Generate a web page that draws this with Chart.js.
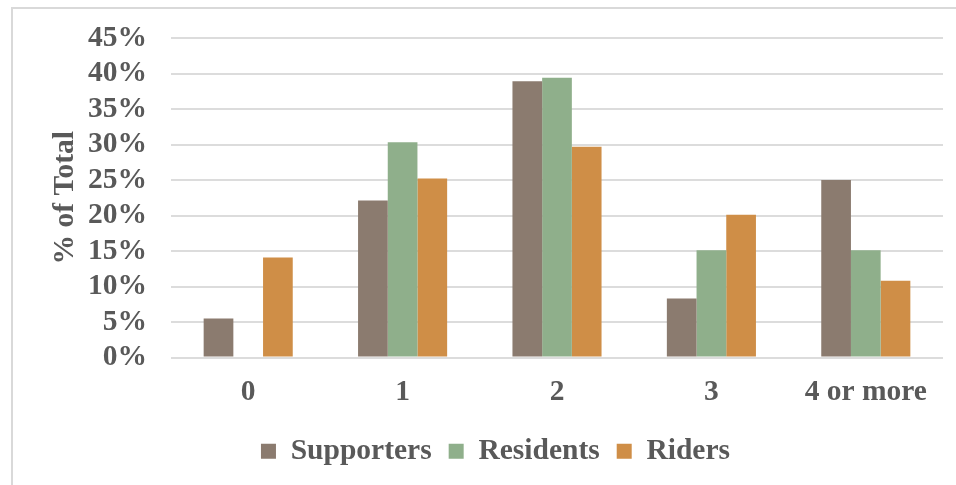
<!DOCTYPE html>
<html>
<head>
<meta charset="utf-8">
<script src="https://cdn.jsdelivr.net/npm/chart.js@4"></script>
<style>
  html, body { margin: 0; padding: 0; background: #fff; }
  #wrap { position: relative; width: 956px; height: 485px; }
  #frame { position: absolute; left: 11px; top: 7px; right: 0; bottom: 0;
           border-left: 2px solid #d9d9d9; border-top: 2px solid #d9d9d9; }
  canvas { position: absolute; left: 0; top: 0; }
</style>
</head>
<body>
<div id="wrap">
  <div id="frame"></div>
  <canvas id="chart" width="956" height="485"></canvas>
</div>
<script>
// values, in percent
const categories = ['0', '1', '2', '3', '4 or more'];
const supporters = [5.5, 22.1, 38.9, 8.3, 25.0];
const residents = [0, 30.3, 39.4, 15.1, 15.1];
const riders = [14.1, 25.2, 29.7, 20.1, 10.8];
const yTicks = [0, 5, 10, 15, 20, 25, 30, 35, 40, 45];

const font = { family: "'Liberation Serif', 'Times New Roman', serif", weight: 'bold', size: 29.5 };
const textColor = '#595959';

const ctx = document.getElementById('chart').getContext('2d');

new Chart(ctx, {
  type: 'bar',
  data: {
    labels: categories,
    datasets: [
      { label: 'Supporters', data: supporters, backgroundColor: '#8b7b6f' },
      { label: 'Residents', data: residents, backgroundColor: '#8faf8b' },
      { label: 'Riders', data: riders, backgroundColor: '#cf8e47' },
    ],
  },
  options: {
    responsive: false,
    animation: false,
    layout: { padding: { left: 48, right: 13, top: 38, bottom: 9 } },
    datasets: {
      bar: { categoryPercentage: 0.577, barPercentage: 1 },
    },
    plugins: {
      tooltip: { enabled: false },
      legend: {
        position: 'bottom',
        labels: {
          font,
          color: textColor,
          boxWidth: 15,
          boxHeight: 15,
          padding: 17,
        },
      },
    },
    scales: {
      x: {
        grid: { display: false, drawTicks: false },
        border: { display: false },
        ticks: { font, color: textColor, padding: 17, autoSkip: false, maxRotation: 0 },
        afterFit: axis => { axis.height = 62; },
      },
      y: {
        min: 0,
        max: 45,
        afterBuildTicks: axis => { axis.ticks = yTicks.map(v => ({ value: v })); },
        afterFit: axis => {
          axis.width = 123;
          axis.paddingTop = 0;
          axis.paddingBottom = 0;
        },
        grid: { color: '#dcdcdc', lineWidth: 2, drawTicks: false },
        border: { display: false },
        ticks: { font, color: textColor, padding: 24, autoSkip: false, callback: v => v + '%' },
        title: { display: true, text: '% of Total', font, color: textColor, padding: 0 },
      },
    },
  },
});
</script>
</body>
</html>
